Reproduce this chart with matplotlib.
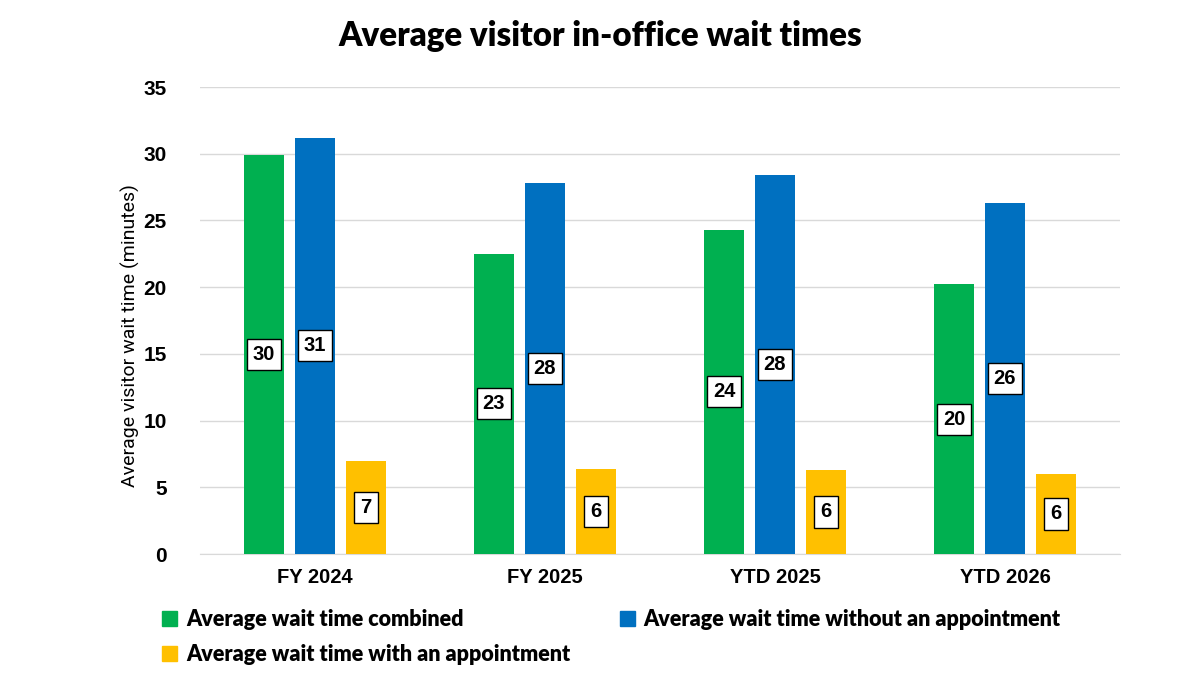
import matplotlib
matplotlib.use("Agg")
import matplotlib.pyplot as plt
import numpy as np
from matplotlib.patches import Patch

categories = ["FY 2024", "FY 2025", "YTD 2025", "YTD 2026"]
combined = [29.9, 22.5, 24.3, 20.2]
without_appt = [31.2, 27.8, 28.4, 26.3]
with_appt = [7.0, 6.4, 6.3, 6.0]
series_names = ["Average wait time combined",
                "Average wait time without an appointment",
                "Average wait time with an appointment"]
colors = ["#00b050", "#0070c0", "#ffc000"]
yticks = [0, 5, 10, 15, 20, 25, 30, 35]

fig = plt.figure(figsize=(12, 6.75), dpi=100)
ax = fig.add_axes([200/1200, 1-554/675, 920/1200, (554-87)/675])

x = np.arange(len(categories))
width = 0.174
offset = 0.222
for i, (vals, col) in enumerate(zip([combined, without_appt, with_appt], colors)):
    pos = x + (i - 1) * offset
    bars = ax.bar(pos, vals, width=width, color=col, zorder=3)
    for b, v in zip(bars, vals):
        ax.text(b.get_x() + b.get_width()/2, v/2, f"{int(np.floor(v + 0.5)):d}",
                ha="center", va="center", fontsize=14.5, fontweight="bold",
                family="Liberation Sans", zorder=4,
                bbox=dict(boxstyle="square,pad=0.3", fc="white", ec="black", lw=1))

ax.set_xlim(-0.5, len(categories) - 0.5)
ax.set_ylim(0, 35)
ax.set_yticks(yticks)
ax.set_yticklabels([str(t) for t in yticks], fontsize=15, fontweight="bold", family="Liberation Sans")
ax.set_xticks(x)
ax.set_xticklabels(categories, fontsize=14.5, fontweight="bold", family="Liberation Sans")
ax.tick_params(axis="both", length=0)
ax.tick_params(axis="x", pad=10)
ax.tick_params(axis="y", pad=24)
ax.grid(axis="y", color="#d9d9d9", lw=1, zorder=0)
for s in ["top", "right", "left"]:
    ax.spines[s].set_visible(False)
ax.spines["bottom"].set_color("#d9d9d9")
ax.set_ylabel("Average visitor wait time (minutes)", fontsize=14, family="Roboto")
ax.yaxis.set_label_coords(-60/920, 0.467)

fig.text(0.5, 1-36/675, "Average visitor in-office wait times", ha="center", va="center",
         fontsize=23.8, fontweight="heavy", family="Lato")

handles = [Patch(color=colors[0]), Patch(color=colors[2]), Patch(color=colors[1])]
labels = [series_names[0], series_names[2], series_names[1]]
leg = fig.legend(handles, labels, ncol=2, loc="upper left", bbox_to_anchor=(143/1200, 1-590/675),
                 frameon=False, prop=dict(family="Lato", weight="heavy", size=15.5),
                 handlelength=0.7, handleheight=0.7, handletextpad=0.4,
                 columnspacing=2.3, labelspacing=0.65)

fig.savefig("out.png", dpi=100)
